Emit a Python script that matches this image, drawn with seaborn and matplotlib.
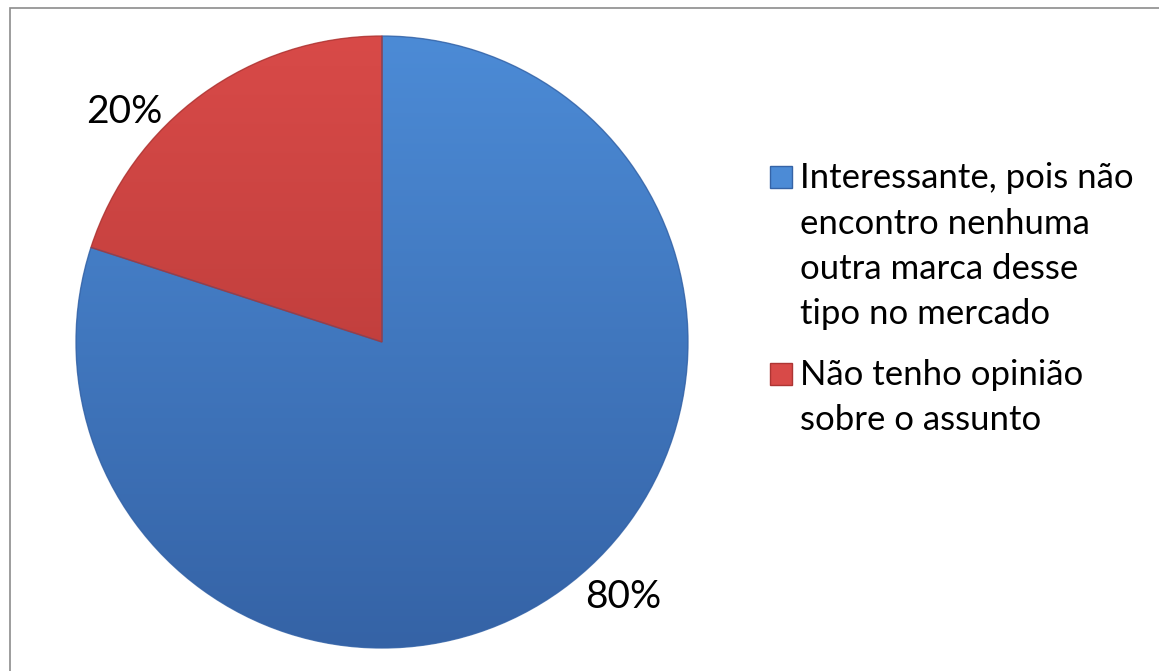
import numpy as np
import matplotlib
matplotlib.use("Agg")
import matplotlib.pyplot as plt
from matplotlib.colors import LinearSegmentedColormap
from matplotlib.patches import Rectangle, Wedge
import seaborn as sns

# Survey answers and their shares
categories = [
    "Interessante, pois não\nencontro nenhuma\noutra marca desse\ntipo no mercado",
    "Não tenho opinião\nsobre o assunto",
]
shares = [80, 20]

# Light (top) and dark (bottom) tones for each slice
light_colors = ["#4C8BD6", "#D84A48"]
dark_colors = ["#3563A6", "#AD3533"]

sns.set_theme(style="white")
plt.rcParams["font.family"] = ["Lato", "DejaVu Sans"]

W, H = 1159, 671
fig = plt.figure(figsize=(W / 100, H / 100), dpi=100)
ax = fig.add_axes([0, 0, 1, 1])


def py(y):
    # pixel row (from top) -> axis y (from bottom)
    return H - y


cx, cy, r = 382, py(342), 306

wedges, _ = ax.pie(
    shares,
    colors=light_colors,
    startangle=90,
    counterclock=False,
    center=(cx, cy),
    radius=r,
    wedgeprops=dict(linewidth=0),
)

# vertical shading inside each slice
grad = np.linspace(0, 1, 256).reshape(-1, 1)
for w, c0, c1 in zip(wedges, light_colors, dark_colors):
    cmap = LinearSegmentedColormap.from_list("shade", [c0, c1])
    im = ax.imshow(grad, extent=[cx - r, cx + r, cy - r, cy + r], origin="upper",
                   cmap=cmap, aspect="auto", zorder=w.get_zorder() + 0.1,
                   interpolation="bilinear")
    im.set_clip_path(w)
    edge = Wedge(w.center, w.r, w.theta1, w.theta2, fill=False,
                 edgecolor=c1, linewidth=1.0, alpha=0.8,
                 zorder=w.get_zorder() + 0.2)
    ax.add_patch(edge)

# percentage labels
label_pos = [(623, 597), (124, 112)]
for v, (x, y) in zip(shares, label_pos):
    ax.text(x, py(y), f"{v}%", ha="center", va="center", fontsize=28, color="black")

# legend entries: square key aligned with the first line + wrapped text
first_baseline = [188, 385]
for cat, c0, c1, yb in zip(categories, light_colors, dark_colors, first_baseline):
    ax.add_patch(Rectangle((770, py(yb)), 22, 22, facecolor=c0, edgecolor=c1,
                           linewidth=1, zorder=5))
    lines = cat.split("\n")
    for i, line in enumerate(lines):
        ax.text(800, py(yb + 45.5 * i), line, ha="left", va="baseline",
                fontsize=25, color="black", zorder=5)

# chart border
ax.add_patch(Rectangle((9.5, py(1000)), 2000, 1000 - 7.5, fill=False,
                       edgecolor="#8C8C8C", linewidth=1.2, zorder=6))

ax.set_xlim(0, W)
ax.set_ylim(0, H)
ax.set_aspect("auto")
ax.axis("off")

fig.savefig("out.png", dpi=100, facecolor="white")
